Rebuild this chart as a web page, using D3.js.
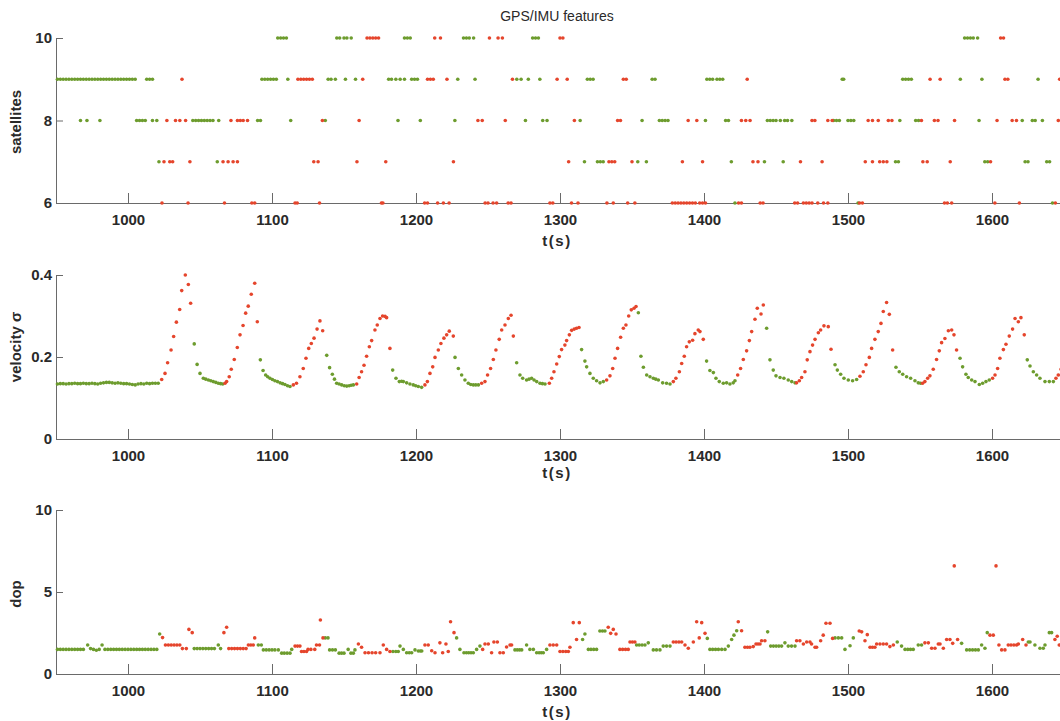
<!DOCTYPE html>
<html lang="en">
<head>
    <title>GPS/IMU features</title>
    <style>
    html, body {
        margin: 0;
        padding: 0;
        background-color: #fff;
    }
    text {
        font-family: "Liberation Sans", Arial, sans-serif;
        fill: #2a2a2a;
    }
    .axis text {
        font-size: 15px;
        font-weight: bold;
        fill: #2a2a2a;
    }
    .axis path, .axis line {
        stroke: #6a6a6a;
        stroke-width: 1;
    }
    </style>
</head>
<body>
    <script src="https://d3js.org/d3.v7.min.js"></script>
    <script>
    var w = 1060;
    var h = 721;

    var timeTicks = [1000, 1100, 1200, 1300, 1400, 1500, 1600];

    // satellites panel, times of the dots in each row
    var green10 = [1104, 1106, 1108, 1110, 1145, 1147, 1150, 1152, 1155, 1192, 1194, 1196, 1233, 1235, 1237, 1240, 1281, 1283, 1285, 1581, 1583, 1585, 1587, 1590];
    var red10 = [1166, 1168, 1170, 1172, 1174, 1213, 1217, 1251, 1257, 1260, 1300, 1302, 1606, 1608];
    var green9 = [951, 953, 955, 957, 959, 961, 963, 965, 967, 969, 971, 973, 975, 977, 979, 981, 983, 985, 987, 989, 991, 993, 995, 997, 999, 1001, 1003, 1005,
        1013, 1015, 1017, 1093, 1095, 1097, 1099, 1101, 1103, 1111, 1139, 1141, 1144, 1151, 1158, 1181, 1183, 1186, 1189, 1192, 1197, 1199, 1201, 1229, 1241,
        1270, 1273, 1278, 1286, 1319, 1321, 1323, 1364, 1366, 1402, 1404, 1406, 1409, 1411, 1413, 1496, 1497, 1538, 1540, 1542, 1544, 1578, 1593, 1632];
    var red9 = [1037.5, 1118, 1120, 1122, 1124, 1126, 1128, 1163, 1208, 1210, 1212, 1221.5, 1267, 1298, 1305, 1344, 1346, 1430, 1557, 1564, 1609, 1611, 1647];
    var green8 = [967, 971.5, 980.5, 1006, 1008, 1010, 1012, 1017, 1020, 1045, 1047, 1049, 1051, 1053, 1055, 1057, 1059, 1063, 1090, 1092, 1113, 1137, 1187.5,
        1203, 1227, 1276, 1288, 1291, 1314, 1357, 1369, 1371, 1373, 1375, 1401, 1415, 1417, 1444, 1446, 1448, 1450, 1453, 1456, 1458, 1461, 1490, 1492, 1494,
        1500, 1502, 1504, 1536, 1547, 1549, 1591, 1621, 1628, 1630, 1635];
    var red8 = [1027, 1033, 1036, 1040, 1071.5, 1076, 1078, 1080, 1083, 1135, 1160.5, 1243, 1246, 1262, 1310, 1340, 1342, 1389, 1395, 1426, 1429, 1432, 1475, 1477,
        1486, 1489, 1514, 1517, 1521, 1528, 1530.5, 1551, 1560, 1562.5, 1574, 1603.5, 1614, 1617, 1646];
    var green7 = [1021.5, 1062, 1317, 1326, 1328, 1330, 1354, 1360, 1419, 1442, 1455, 1533, 1535, 1595, 1597, 1623, 1625, 1638, 1640];
    var red7 = [1025, 1029, 1031, 1043, 1066, 1069.5, 1073, 1076, 1129, 1132, 1159, 1179, 1226, 1306, 1334, 1336, 1338, 1350, 1385, 1399, 1434, 1437.5, 1467,
        1482, 1512, 1517, 1522, 1524.5, 1527, 1552, 1555, 1571, 1599];
    var green6 = [1421.5, 1507, 1642];
    var red6 = [1023.6, 1041.7, 1067, 1086, 1088, 1116, 1117.5, 1133, 1176, 1177, 1206, 1208, 1215, 1219, 1223, 1248, 1250, 1253.5, 1256, 1264, 1266, 1293,
        1295, 1308, 1312.5, 1332.6, 1337, 1347, 1352, 1378, 1380, 1382, 1384, 1386, 1388, 1390, 1392, 1394, 1397, 1399, 1401, 1424, 1426, 1439, 1441, 1463, 1465,
        1469, 1471, 1473, 1475, 1479, 1483, 1486, 1508, 1510, 1567, 1569, 1572, 1602, 1619, 1644];

    // velocity sigma panel [t, value]
    var velGreen = [[951,.134],[953,.135],[955,.135],[957,.134],[959,.135],[961,.135],[963,.136],[965,.135],[967,.135],[969,.136],[971,.135],[973,.135],
        [975,.136],[977,.135],[979,.134],[981,.136],[983,.137],[985,.138],[987,.138],[989,.137],[991,.136],[993,.137],[995,.136],[997,.135],[999,.135],
        [1001,.134],[1003,.133],[1005,.132],[1007,.134],[1009,.135],[1011,.134],[1013,.136],[1015,.135],[1017,.136],[1019,.136],[1021,.136],
        [1046,.232],[1048,.182],[1050,.160],[1052.3,.148],[1054,.146],[1055.8,.144],[1057.5,.142],[1059.2,.140],[1061,.138],[1062.7,.136],[1064.3,.135],[1065.8,.134],
        [1091.9,.193],[1093.8,.167],[1095.6,.156],[1097,.152],[1098.6,.148],[1100.3,.145],[1102,.142],[1103.8,.140],[1105.6,.137],[1107.3,.135],[1109,.133],[1110.8,.130],[1112.5,.128],
        [1138,.204],[1140,.174],[1141.9,.158],[1143.4,.146],[1144.9,.136],[1146.6,.134],[1148.4,.132],[1150.2,.130],[1151.9,.129],[1153.6,.130],[1155,.131],[1156.5,.132],
        [1183.8,.168],[1186.1,.148],[1188.4,.140],[1190,.141],[1191.2,.140],[1193.5,.137],[1195.8,.134],[1198.1,.132],[1199.8,.130],[1201.6,.128],[1203.9,.126],
        [1227.1,.199],[1229.4,.172],[1231.7,.156],[1234,.144],[1236.3,.136],[1238,.133],[1239.8,.132],[1241.5,.132],[1243.3,.132],
        [1269.9,.186],[1272.2,.156],[1274.1,.148],[1276.8,.144],[1278.5,.146],[1280.3,.148],[1282,.144],[1283.8,.140],[1286.1,.136],[1287.8,.135],[1289.6,.134],
        [1315,.218],[1317.3,.190],[1318.5,.176],[1320.8,.160],[1323.1,.148],[1325.4,.142],[1327.8,.137],[1330.1,.140],
        [1354.4,.308],[1356.2,.202],[1357.9,.175],[1360.2,.156],[1362.5,.152],[1364.8,.148],[1366.5,.146],[1368.3,.144],[1371.3,.137],[1374,.136],[1376.4,.134],
        [1401.8,.190],[1404.1,.167],[1406.5,.162],[1408.3,.148],[1410.6,.140],[1413.4,.136],[1415.7,.137],[1418,.134],[1420.3,.137],[1421.5,.142],
        [1443.5,.270],[1445.8,.193],[1448.1,.168],[1450,.154],[1452.8,.150],[1455.5,.148],[1458.5,.144],[1460.9,.140],[1463.2,.137],
        [1491,.181],[1492.6,.168],[1494.9,.158],[1497.2,.148],[1500.2,.144],[1503.2,.142],[1506,.145],
        [1533.3,.175],[1535.6,.164],[1538,.158],[1540.7,.152],[1543.5,.148],[1546.5,.142],[1548.8,.137],[1550.4,.136],
        [1577.8,.197],[1579.6,.176],[1581.9,.158],[1583.5,.150],[1585.9,.144],[1588.2,.140],[1591.2,.133],[1593.5,.136],[1595.8,.140],[1598.1,.144],
        [1624.5,.193],[1626.4,.178],[1628.7,.164],[1631,.156],[1633.3,.148],[1636.8,.140],[1639.8,.140],[1642.6,.140]];
    var velRed = [[1023.4,.145],[1025.7,.160],[1027.5,.186],[1029.9,.217],[1031.7,.250],[1033.6,.285],[1035.9,.316],[1037.3,.362],[1039.8,.400],[1041.9,.377],[1043.5,.331],
        [1067.4,.136],[1068.5,.140],[1070.3,.152],[1071.7,.170],[1073.8,.194],[1075.9,.223],[1077.8,.254],[1079.9,.277],[1081.7,.307],[1083.5,.324],[1085.6,.353],[1088,.380],[1089.8,.286],
        [1114.8,.132],[1117,.136],[1119.4,.152],[1121.7,.172],[1123.6,.197],[1125.5,.221],[1127.3,.233],[1129.2,.246],[1131.3,.268],[1133.3,.288],[1135.2,.264],
        [1158.8,.134],[1160.5,.150],[1162.2,.164],[1163.9,.180],[1165.7,.202],[1167.6,.225],[1169.2,.240],[1171.5,.266],[1173.1,.278],[1175,.294],[1176.8,.300],[1178.5,.299],[1179.6,.296],[1181.9,.221],
        [1206.2,.132],[1207.9,.140],[1209.7,.160],[1211.6,.176],[1213.2,.199],[1215.5,.217],[1217.3,.233],[1219.4,.246],[1221.3,.254],[1223.1,.263],[1225.9,.251],
        [1245.6,.136],[1247.9,.140],[1249.7,.156],[1251.8,.172],[1253.7,.194],[1255.5,.217],[1257.8,.243],[1259.5,.266],[1261.8,.278],[1264.1,.294],[1266,.302],[1267.6,.251],
        [1292.6,.136],[1294.2,.148],[1295.8,.164],[1297.7,.183],[1299.5,.201],[1301.1,.218],[1303.4,.229],[1304.6,.240],[1306.5,.254],[1308.1,.265],[1309.9,.268],[1311.5,.270],[1313.2,.272],
        [1332.4,.144],[1334.7,.154],[1336.6,.172],[1338.2,.197],[1340,.221],[1342.1,.248],[1344,.270],[1345.8,.278],[1347.7,.300],[1349.5,.315],[1351.4,.319],[1352.8,.323],
        [1378.7,.140],[1380.5,.148],[1382.9,.164],[1384.5,.184],[1386.3,.202],[1387.9,.225],[1389.8,.237],[1392.1,.241],[1393.7,.257],[1396,.266],[1397.2,.262],[1399.5,.243],
        [1423.4,.156],[1425.4,.172],[1427.3,.194],[1429.6,.215],[1431.5,.240],[1433.1,.262],[1435.4,.292],[1437,.319],[1439.6,.305],[1441.2,.327],
        [1464.3,.137],[1466.2,.142],[1467.8,.150],[1470.1,.164],[1471.7,.193],[1473.6,.213],[1475.4,.229],[1477.1,.243],[1479.4,.259],[1481,.266],[1483.3,.276],[1486.3,.274],[1488.2,.219],
        [1508.3,.153],[1510.6,.164],[1512.5,.181],[1514.8,.199],[1516.4,.221],[1518.7,.243],[1521,.262],[1522.9,.282],[1524.5,.311],[1526.8,.333],[1528.7,.304],[1531,.217],
        [1551.8,.136],[1553.4,.140],[1555.3,.148],[1556.9,.154],[1559.2,.170],[1561.5,.194],[1563.4,.215],[1565,.235],[1567.3,.245],[1569.7,.264],[1572,.266],[1573.6,.254],[1575.4,.217],
        [1600.4,.148],[1602.1,.156],[1603.9,.172],[1605.5,.197],[1607.9,.218],[1609.7,.231],[1612,.251],[1614.3,.268],[1616,.294],[1618.3,.286],[1620.1,.296],[1622.4,.254],
        [1644.4,.148],[1646,.156],[1648,.170]];

    // dop panel [t, value]
    var dopGreen = [[951,1.5],[953,1.5],[955,1.5],[957,1.5],[959,1.5],[961,1.5],[963,1.5],[965,1.5],[967,1.5],[969,1.5],[972,1.77],[974,1.55],[976,1.5],
        [978,1.45],[980,1.5],[982,1.77],[984,1.5],[986,1.5],[988,1.5],[990,1.5],[992,1.5],[994,1.5],[996,1.5],[998,1.5],[1000,1.5],[1002,1.5],[1004,1.5],
        [1006,1.5],[1008,1.5],[1010,1.5],[1012,1.5],[1014,1.5],[1016,1.5],[1018,1.5],[1020,1.5],[1022,2.44],
        [1046,1.55],[1048,1.55],[1050,1.55],[1052,1.55],[1054,1.55],[1056,1.55],[1058,1.55],[1060,1.55],[1062.7,1.77],[1064.3,1.55],
        [1090.5,1.77],[1092.6,1.77],[1094,1.47],[1096,1.47],[1098,1.47],[1100,1.47],[1102,1.47],[1104.4,1.47],[1106.7,1.27],[1108.5,1.27],[1110.5,1.27],[1112.5,1.27],[1113.7,1.5],
        [1137,2.2],[1138.9,2.2],[1140,1.47],[1142,1.47],[1144,1.47],[1146.6,1.27],[1148.3,1.27],[1150,1.27],[1152.9,1.5],[1154.8,1.27],[1156.5,1.27],[1157.6,1.47],
        [1184,1.37],[1186,1.37],[1187.7,1.37],[1188.9,1.7],[1191.2,1.5],[1193.5,1.3],[1195.3,1.3],[1197,1.3],[1199.3,1.47],[1201.6,1.4],[1203,1.4],[1204,1.4],
        [1228.2,2.2],[1230.5,1.5],[1233.3,1.3],[1235,1.3],[1236.6,1.3],[1238.2,1.3],[1239.8,1.3],[1242.1,1.5],[1244.4,1.7],
        [1268.7,1.47],[1270.3,1.47],[1271.9,1.47],[1273.4,1.47],[1276.8,1.77],[1279.1,1.5],[1281.5,1.5],[1283.8,1.3],[1285.5,1.3],[1287,1.3],[1288.4,1.3],[1290.7,1.5],
        [1315.7,2.1],[1317.3,2.44],[1319.7,1.5],[1321.5,1.5],[1323.4,1.5],[1325.4,1.5],[1327.7,2.62],[1329.5,2.62],[1331.2,2.62],
        [1353.2,1.77],[1355,1.77],[1357,1.77],[1359,1.77],[1361.3,1.9],[1364.8,1.47],[1367,1.47],[1369.4,1.47],[1371.7,1.7],[1374,1.7],[1376.4,1.7],
        [1402.3,2.17],[1404.1,1.5],[1406,1.5],[1408,1.5],[1410,1.5],[1412.3,1.5],[1414.6,1.5],[1416.9,1.7],[1419.2,2.1],[1420.8,2.37],[1422.7,2.64],
        [1444.2,2.57],[1446.3,1.7],[1448.2,1.7],[1450.1,1.7],[1452,1.7],[1453.9,1.7],[1456.2,1.9],[1458.5,1.7],[1460.8,1.7],[1463.2,1.7],
        [1491,2.2],[1493.3,2.2],[1495.6,2.2],[1497.9,1.5],[1501.4,1.72],[1503.7,2.2],
        [1534.2,1.95],[1537.2,1.7],[1539.6,1.5],[1541.5,1.5],[1543.4,1.5],[1545.3,1.5],[1548.8,1.77],[1551.1,1.77],
        [1578.9,1.87],[1582.4,1.47],[1584.5,1.47],[1586.5,1.47],[1588.5,1.47],[1590.5,1.47],[1592.8,1.77],[1595.1,1.57],[1596.7,2.52],
        [1625.2,1.95],[1626.4,1.95],[1629.8,1.77],[1633.3,1.57],[1635.6,1.57],[1636.8,1.77],[1639.8,2.52],[1641.4,2.52]];
    var dopRed = [[1024,2.22],[1026,1.77],[1028,1.77],[1030,1.77],[1032,1.77],[1034,1.77],[1036,1.77],[1037.8,1.55],[1040.5,1.55],[1042.3,2.72],[1044.6,2.52],
        [1066.6,2.52],[1068.5,2.85],[1070,1.55],[1072,1.55],[1074,1.55],[1076,1.55],[1078,1.55],[1080,1.55],[1082,1.55],[1083.6,1.77],[1085.3,1.77],[1087,1.77],[1088,2.2],
        [1116,1.7],[1117.7,1.7],[1119.4,1.7],[1120.5,1.37],[1122.2,1.37],[1124,1.37],[1125,1.5],[1127,1.5],[1129.7,1.5],[1130.9,1.77],[1133,1.77],[1133.6,3.29],[1135.4,2.2],
        [1160,1.83],[1162.2,1.63],[1164.6,1.3],[1167,1.3],[1169.5,1.3],[1172,1.3],[1175,1.3],[1177.3,1.77],[1179.6,1.5],[1181.9,1.37],
        [1206.2,1.77],[1208.5,1.77],[1210.9,1.42],[1213.2,1.3],[1216.6,1.9],[1218.5,1.3],[1220.8,1.83],[1222.4,1.37],[1224,3.19],[1226.4,2.52],
        [1246.3,1.5],[1247.9,1.83],[1250.2,1.83],[1252.5,1.3],[1254.1,1.95],[1256.5,1.95],[1258.3,1.3],[1260.6,1.3],[1262.9,1.65],[1265.3,1.77],[1266.4,1.77],
        [1293,1.77],[1295.3,1.77],[1297.7,1.77],[1300,1.37],[1302,1.37],[1304,1.37],[1305.8,1.37],[1306.9,1.63],[1309.2,3.13],[1311.5,2.1],[1313.4,3.13],
        [1333.5,2.85],[1335.2,2.48],[1337,2.72],[1338.9,2.44],[1341.6,1.5],[1343.5,1.5],[1345.5,1.5],[1347.4,1.5],[1348.6,1.95],[1350.3,1.95],[1352,1.95],
        [1378.7,1.95],[1380.6,1.95],[1382.6,1.95],[1384.5,1.95],[1386.8,1.77],[1389.1,1.57],[1392.6,1.95],[1394.9,3.19],[1396.7,2.2],[1398.4,3.13],[1400.7,2.48],
        [1423.8,3.19],[1426.1,2.64],[1428.4,1.63],[1430.2,1.63],[1431.9,1.63],[1434.2,1.67],[1436.1,1.83],[1437.5,1.83],[1438.9,1.83],[1440,2.03],[1442.3,2.03],
        [1464.3,2.03],[1466.6,2.03],[1469,1.83],[1471.3,1.95],[1473.6,1.95],[1474.7,1.83],[1477.1,1.63],[1478.2,1.63],[1481,2.03],[1482.8,2.37],[1484.7,3.09],[1487.5,3.09],[1489.3,2.17],
        [1507.8,2.62],[1509.5,2.57],[1511.8,2.03],[1513.4,2.4],[1515.3,1.63],[1517,1.63],[1518.7,1.63],[1519.9,1.83],[1522.2,1.83],[1524.5,1.83],[1526.8,1.83],[1529.1,1.67],[1531.5,1.77],
        [1553.4,1.9],[1555.8,1.9],[1558.1,1.57],[1560.4,1.57],[1562.7,1.83],[1563.9,1.83],[1566.2,1.57],[1568.5,2.1],[1570.8,2.1],[1572.7,1.87],[1573.8,6.59],[1576.1,2.1],
        [1598.6,2.37],[1600.9,2.37],[1602.8,6.59],[1604.8,1.77],[1606.7,1.47],[1609,1.47],[1611.3,1.77],[1613.2,1.77],[1615.2,1.77],[1617.1,1.77],[1618.3,1.83],[1621.3,2.1],[1623.6,1.77],
        [1643.7,2.1],[1645.3,2.3],[1646.7,1.77]];

    var greenCol = "#6d9c2e";
    var redCol = "#e5452c";

    // turn satellite rows into [t, n] points
    function rows(list) {
        var out = [];
        list.forEach(function(r) {
            r[1].forEach(function(t) { out.push([t, r[0]]); });
        });
        return out;
    }
    var satGreen = rows([[10, green10], [9, green9], [8, green8], [7, green7], [6, green6]]);
    var satRed = rows([[10, red10], [9, red9], [8, red8], [7, red7], [6, red6]]);

    var x = d3.scaleLinear().domain([950, 1700]).range([56, 1136]);

    var svg = d3.select("body").append("svg").attr("width", w).attr("height", h);

    function panel(y, yTicks, name, nameY, tlabY, green, red) {
        var g = svg.append("g");
        var base = y.range()[0];

        g.append("g")
            .attr("class", "axis")
            .attr("transform", "translate(0," + base + ")")
            .call(d3.axisBottom(x).tickValues(timeTicks).tickSizeInner(-10).tickSizeOuter(0).tickPadding(11).tickFormat(d3.format("d")));

        g.append("g")
            .attr("class", "axis")
            .attr("transform", "translate(" + x.range()[0] + ",0)")
            .call(d3.axisLeft(y).tickValues(yTicks).tickSizeInner(-7).tickSizeOuter(0).tickPadding(4).tickFormat(function(d) { return d; }));

        g.append("text")
            .attr("transform", "translate(21," + nameY + ") rotate(-90)")
            .attr("text-anchor", "middle")
            .attr("font-size", "15px")
            .attr("font-weight", "bold")
            .text(name);

        g.append("text")
            .attr("x", 557)
            .attr("y", tlabY)
            .attr("text-anchor", "middle")
            .attr("font-size", "15px")
            .attr("font-weight", "bold")
            .attr("letter-spacing", "1.5px")
            .text("t(s)");

        g.selectAll(".g").data(green).enter().append("circle")
            .attr("cx", function(d) { return x(d[0]); })
            .attr("cy", function(d) { return y(d[1]); })
            .attr("r", 1.8)
            .attr("fill", greenCol);

        g.selectAll(".r").data(red).enter().append("circle")
            .attr("cx", function(d) { return x(d[0]); })
            .attr("cy", function(d) { return y(d[1]); })
            .attr("r", 1.8)
            .attr("fill", redCol);
    }

    svg.append("text")
        .attr("x", 557)
        .attr("y", 21)
        .attr("text-anchor", "middle")
        .attr("font-size", "14px")
        .text("GPS/IMU features");

    panel(d3.scaleLinear().domain([6, 10]).range([203, 38]), [6, 8, 10], "satellites", 122, 246, satGreen, satRed);
    panel(d3.scaleLinear().domain([0, 0.4]).range([439, 275]), [0, 0.2, 0.4], "velocity \u03c3", 347, 478, velGreen, velRed);
    panel(d3.scaleLinear().domain([0, 10]).range([674, 510]), [0, 5, 10], "dop", 594, 717, dopGreen, dopRed);
    </script>
</body>
</html>
